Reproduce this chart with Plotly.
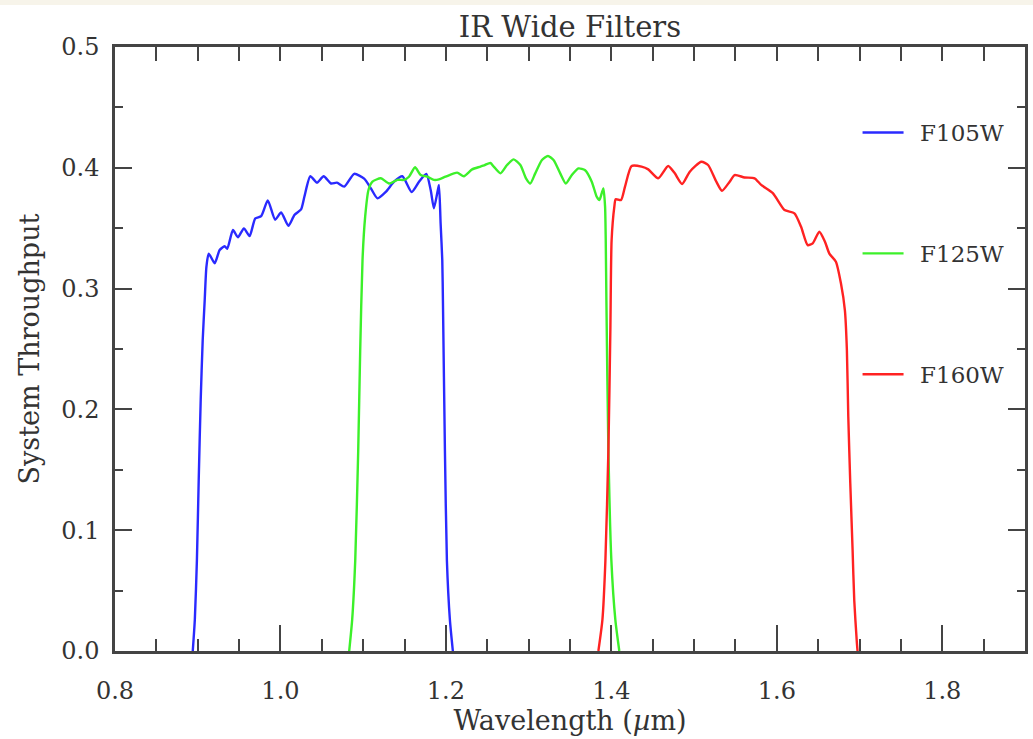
import plotly.graph_objects as go

# WFC3/IR wide-band filter system throughput curves
f105w_wave = [0.894, 0.8965, 0.899, 0.9012, 0.9036, 0.906, 0.9084, 0.9105, 0.9133, 0.9205,
              0.9265, 0.9325, 0.9357, 0.9426, 0.9486, 0.9558, 0.9627, 0.9695, 0.9767, 0.9847,
              0.9936, 1.0008, 1.0096, 1.0169, 1.0249, 1.0289, 1.0361, 1.0442, 1.0522, 1.0611,
              1.0683, 1.0771, 1.0892, 1.1012, 1.1093, 1.1173, 1.1273, 1.1373, 1.1474, 1.1586,
              1.1675, 1.1763, 1.1816, 1.1855, 1.1895, 1.1916, 1.1936, 1.1956, 1.1964, 1.1988,
              1.2012, 1.2048, 1.2084]
f105w_thru = [0.0, 0.026, 0.075, 0.142, 0.208, 0.257, 0.290, 0.318, 0.329, 0.321,
              0.332, 0.335, 0.333, 0.3485, 0.3425, 0.3498, 0.3435, 0.358, 0.360, 0.373,
              0.357, 0.363, 0.352, 0.361, 0.3656, 0.376, 0.393, 0.3877, 0.393, 0.387,
              0.3877, 0.3844, 0.395, 0.391, 0.383, 0.3747, 0.380, 0.3885, 0.393, 0.380,
              0.3885, 0.395, 0.3816, 0.3665, 0.379, 0.3858, 0.354, 0.3237, 0.290, 0.166,
              0.075, 0.026, 0.0]

f125w_wave = [1.0831, 1.0867, 1.0904, 1.094, 1.0964, 1.0992, 1.1024, 1.1064, 1.1112, 1.1213,
              1.1313, 1.1414, 1.1494, 1.1554, 1.1627, 1.1695, 1.1775, 1.1855, 1.1916, 1.1996,
              1.2136, 1.2217, 1.2317, 1.2418, 1.2470, 1.2538, 1.2578, 1.2659, 1.2739, 1.2819,
              1.2900, 1.2968, 1.3020, 1.3080, 1.3161, 1.3233, 1.3301, 1.3382, 1.3450, 1.3522,
              1.3602, 1.3683, 1.3763, 1.3823, 1.3855, 1.3884, 1.3904, 1.3924, 1.3932, 1.394,
              1.3964, 1.400, 1.4048, 1.4096]
f125w_thru = [0.0, 0.026, 0.075, 0.166, 0.249, 0.3237, 0.3595, 0.3816, 0.3885, 0.3913,
              0.387, 0.390, 0.390, 0.3926, 0.4004, 0.394, 0.3926, 0.390, 0.3904, 0.3926,
              0.396, 0.393, 0.3987, 0.401, 0.4023, 0.404, 0.401, 0.3954, 0.4023, 0.407,
              0.4023, 0.3913, 0.387, 0.3954, 0.4065, 0.4098, 0.4065, 0.3954, 0.387, 0.394,
              0.3995, 0.398, 0.3885, 0.376, 0.3733, 0.379, 0.383, 0.3678, 0.340, 0.290,
              0.166, 0.075, 0.026, 0.0]

f160w_wave = [1.3843, 1.3892, 1.3928, 1.3964, 1.3988, 1.4003, 1.4036, 1.4052, 1.4117, 1.4165,
              1.4245, 1.4365, 1.4446, 1.4566, 1.4687, 1.4767, 1.4855, 1.4948, 1.5088, 1.5169,
              1.5269, 1.5337, 1.5430, 1.5490, 1.5610, 1.5731, 1.5811, 1.5952, 1.6093, 1.6213,
              1.6293, 1.6373, 1.6434, 1.6514, 1.6582, 1.6635, 1.6714, 1.6775, 1.6823, 1.6847,
              1.6864, 1.6888, 1.6916, 1.6936, 1.6968, 1.6976]
f160w_thru = [0.0, 0.026, 0.075, 0.166, 0.266, 0.340, 0.3678, 0.374, 0.3733, 0.3844,
              0.4015, 0.401, 0.3987, 0.3913, 0.4015, 0.3954, 0.3866, 0.3968, 0.405, 0.4023,
              0.3885, 0.381, 0.3885, 0.394, 0.392, 0.3913, 0.3858, 0.379, 0.365, 0.3623,
              0.3512, 0.336, 0.3375, 0.3471, 0.3388, 0.329, 0.3223, 0.3044, 0.282, 0.249,
              0.194, 0.1388, 0.0836, 0.042, 0.0064, 0.0]

filter_names = ["F105W", "F125W", "F160W"]
filter_colors = ["#2a2aff", "#3cf02a", "#ff2222"]

x_range = [0.8, 1.9]
y_range = [0.0, 0.5]
x_tickvals = [0.8, 1.0, 1.2, 1.4, 1.6, 1.8]
y_tickvals = [0.0, 0.1, 0.2, 0.3, 0.4, 0.5]

FONT = "DejaVu Serif"
INK = "#333333"
AXIS = "#444444"

fig = go.Figure()
series = [(f105w_wave, f105w_thru), (f125w_wave, f125w_thru), (f160w_wave, f160w_thru)]
for (wave, thru), name, color in zip(series, filter_names, filter_colors):
    fig.add_trace(go.Scatter(
        x=wave, y=thru, mode="lines", name="\u2002" + name, legendgroup=name,
        line=dict(color=color, width=2.4, shape="spline", smoothing=0.6),
    ))

# invisible trace carrying the top axis (uniform minor ticks)
fig.add_trace(go.Scatter(x=x_range, y=y_range, xaxis="x2", mode="lines",
                         line=dict(width=0), showlegend=False, hoverinfo="skip"))

plot_h = 739 - 47 - 88
fig.update_layout(
    width=1033, height=739,
    margin=dict(l=115, r=5, t=47, b=88),
    paper_bgcolor="white", plot_bgcolor="white",
    font=dict(family=FONT, color=INK, size=20),
    title=dict(text="IR Wide Filters", x=0.5, xref="paper", xanchor="center",
               y=1 - 27 / 739, yanchor="middle", font=dict(size=29, family=FONT, color=INK)),
    shapes=[dict(type="rect", xref="paper", yref="paper", x0=-0.2, x1=1.1,
                 y0=1 + 42 / plot_h, y1=1 + 48 / plot_h, fillcolor="#f7f4ea",
                 line=dict(width=0), layer="below")],
    xaxis=dict(
        range=x_range, showgrid=False, zeroline=False,
        showline=True, linecolor=AXIS, linewidth=2.5, mirror=True,
        tickmode="array", tickvals=x_tickvals, ticktext=[f"{v:.1f}" for v in x_tickvals],
        ticks="inside", ticklen=26, tickwidth=1.5, tickcolor=AXIS,
        minor=dict(dtick=0.05, ticks="inside", ticklen=12, tickwidth=1.5, tickcolor=AXIS),
        tickfont=dict(size=24, family=FONT, color=INK),
        ticklabelstandoff=16,
        title=dict(text="Wavelength (<i>µ</i>m)", standoff=2, font=dict(size=27, family=FONT, color=INK)),
    ),
    xaxis2=dict(
        range=x_range, overlaying="x", side="top", showgrid=False, zeroline=False,
        showline=False, showticklabels=False,
        tick0=0.8, dtick=0.05, ticks="inside", ticklen=14, tickwidth=1.5, tickcolor=AXIS,
    ),
    yaxis=dict(
        range=y_range, showgrid=False, zeroline=False,
        showline=True, linecolor=AXIS, linewidth=2.5, mirror="ticks",
        tickmode="array", tickvals=y_tickvals, ticktext=[f"{v:.1f}" for v in y_tickvals],
        ticks="inside", ticklen=17, tickwidth=1.5, tickcolor=AXIS,
        minor=dict(dtick=0.05, ticks="inside", ticklen=8, tickwidth=1.5, tickcolor=AXIS),
        tickfont=dict(size=24, family=FONT, color=INK),
        ticklabelstandoff=8,
        title=dict(text="System Throughput", standoff=14, font=dict(size=27, family=FONT, color=INK)),
    ),
    showlegend=True,
    legend=dict(
        x=(860 - 115) / 913, xanchor="left", y=1 - (131 - 47 - 20) / plot_h, yanchor="top",
        bgcolor="rgba(0,0,0,0)", borderwidth=0, tracegroupgap=88, itemwidth=41,
        font=dict(size=23, family=FONT, color=INK),
    ),
)

fig.write_html("out.html")
